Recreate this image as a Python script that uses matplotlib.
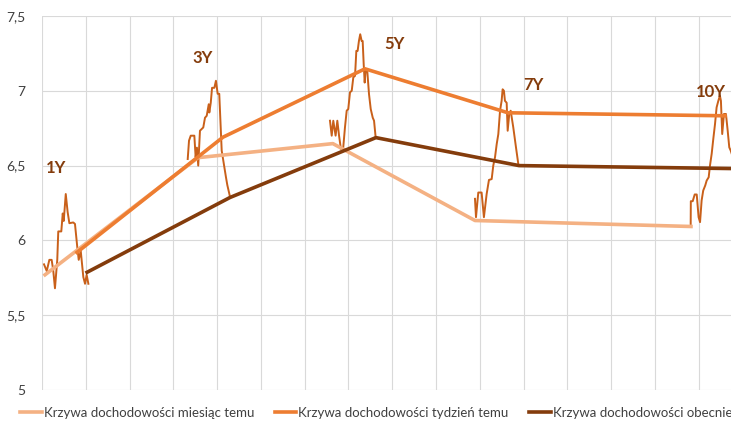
import numpy as np
import matplotlib.pyplot as plt
from matplotlib.ticker import MultipleLocator, FuncFormatter

plt.rcParams['font.family'] = ['Lato', 'DejaVu Sans']

# yield curve points: day on the time axis and yield (%) for each tenor
tenors = ['1Y', '3Y', '5Y', '7Y', '10Y']
month_ago_days = [2.1, 108.3, 202.0, 300.7, 450.7]
month_ago = [5.77, 6.553, 6.647, 6.133, 6.093]
week_ago_days = [24.3, 125.7, 224.3, 323.6, 474.3]
week_ago = [5.92, 6.69, 7.147, 6.853, 6.833]
now_days = [31.3, 130.6, 231.9, 331.3, 481.0]
now = [5.787, 6.287, 6.687, 6.50, 6.48]

# daily yields over the last month for each tenor
days_1y = [1.4, 3.3, 5.1, 6.7, 7.8, 9.0, 10.6, 11.3, 13.4, 14.4, 15.1, 16.5, 17.8,
           19.0, 21.7, 22.9, 24.5, 25.5, 26.9, 28.7, 29.9, 31.0, 32.2]
vals_1y = [5.84, 5.795, 5.87, 5.87, 5.80, 5.68, 5.87, 6.06, 6.06, 6.18, 6.13, 6.31, 6.19,
           6.115, 6.12, 6.11, 5.955, 5.87, 5.93, 5.755, 5.71, 5.77, 5.71]
days_3y = [101.2, 102.1, 103.3, 105.8, 106.7, 107.6, 108.5, 109.7, 112.0, 113.2, 114.4,
           115.8, 116.2, 117.2, 118.1, 119.7, 120.8, 122.0, 123.1, 124.8, 127.8, 128.7, 130.6]
vals_3y = [6.544, 6.667, 6.70, 6.70, 6.556, 6.62, 6.50, 6.733, 6.755, 6.82, 6.833,
           6.91, 6.855, 6.92, 7.02, 7.02, 7.067, 6.98, 6.98, 6.60, 6.42, 6.37, 6.29]
days_5y = [200.0, 201.2, 202.3, 203.9, 205.1, 206.3, 207.6, 209.2, 210.4, 211.6, 212.7,
           213.9, 215.1, 216.2, 217.4, 218.3, 219.2, 220.1, 221.0, 222.0, 222.7, 223.4,
           224.1, 224.8, 225.9, 227.1, 228.3, 229.7, 230.6, 231.7]
vals_5y = [6.80, 6.70, 6.80, 6.70, 6.80, 6.70, 6.61, 6.62, 6.755, 6.867, 6.878,
           6.99, 7.00, 7.09, 7.10, 7.267, 7.267, 7.333, 7.378, 7.333, 7.333, 7.18,
           7.055, 7.145, 7.133, 6.978, 6.878, 6.82, 6.80, 6.69]
days_7y = [300.7, 301.4, 303.0, 305.3, 306.9, 308.8, 310.4, 312.3, 313.4, 314.6, 315.8,
           316.9, 318.1, 319.2, 319.9, 320.8, 321.5, 322.7, 323.4, 324.5, 325.5, 327.3,
           329.2, 330.8]
vals_7y = [6.278, 6.155, 6.32, 6.32, 6.155, 6.31, 6.404, 6.41, 6.50, 6.555, 6.645,
           6.71, 6.867, 6.933, 7.01, 7.00, 6.933, 6.92, 6.733, 6.845, 6.867, 6.755,
           6.62, 6.51]
days_10y = [450.5, 450.6, 451.9, 453.3, 454.7, 456.0, 457.0, 458.1, 459.2, 460.6, 461.6,
            463.0, 463.9, 465.1, 466.2, 467.4, 468.5, 469.7, 470.8, 471.5, 472.4, 473.6,
            475.0, 476.2, 477.3, 478.3, 480.0]
vals_10y = [6.11, 6.262, 6.262, 6.307, 6.307, 6.155, 6.122, 6.267, 6.333, 6.367, 6.40,
            6.422, 6.50, 6.58, 6.678, 6.778, 6.889, 6.933, 6.967, 6.933, 6.711, 6.845,
            6.845, 6.733, 6.622, 6.60, 6.55]

daily = [(days_1y, vals_1y), (days_3y, vals_3y), (days_5y, vals_5y),
         (days_7y, vals_7y), (days_10y, vals_10y)]

# where each tenor name sits (day, yield)
label_pos = [(9.7, 6.487), (111.8, 7.22), (245.0, 7.313), (341.0, 7.04), (464.6, 6.993)]

c_light = '#F4B183'
c_mid = '#ED7D31'
c_dark = '#843C0C'
c_daily = '#C9601A'

fig = plt.figure(figsize=(7.31, 4.23), dpi=100)
ax = fig.add_axes([42 / 731, 33 / 423, 1 - 42 / 731, 374 / 423])

for d, v in daily:
    ax.plot(d, v, color=c_daily, lw=1.4, zorder=2)

ax.plot(month_ago_days, month_ago, color=c_light, lw=2.6, zorder=3,
        label='Krzywa dochodowości miesiąc temu')
ax.plot(week_ago_days, week_ago, color=c_mid, lw=2.6, zorder=4,
        label='Krzywa dochodowości tydzień temu')
ax.plot(now_days, now, color=c_dark, lw=2.6, zorder=5,
        label='Krzywa dochodowości obecnie')

for name, (x, y) in zip(tenors, label_pos):
    ax.text(x, y, name, color=c_dark, fontsize=12, fontweight='bold',
            ha='center', va='center', zorder=6)

ax.set_xlim(0, 478.5)
ax.set_ylim(5, 7.5)
ax.xaxis.set_major_locator(MultipleLocator(30.4))
ax.yaxis.set_major_locator(MultipleLocator(0.5))
ax.yaxis.set_major_formatter(FuncFormatter(lambda v, p: f'{v:g}'.replace('.', ',')))
ax.grid(True, color='#D9D9D9', lw=0.8)
ax.set_axisbelow(True)
for s in ax.spines.values():
    s.set_visible(False)
ax.tick_params(axis='x', length=0, labelbottom=False)
ax.tick_params(axis='y', length=0, labelsize=10, labelcolor='#404040', pad=12)

fig.legend(loc='center left', bbox_to_anchor=(20 / 731, 1 - 413 / 423), ncol=3,
           frameon=False, fontsize=9.5, labelcolor='#404040', handlelength=1.65,
           handletextpad=0.15, columnspacing=1.55, borderpad=0, borderaxespad=0)

fig.savefig('out.png', dpi=100)
